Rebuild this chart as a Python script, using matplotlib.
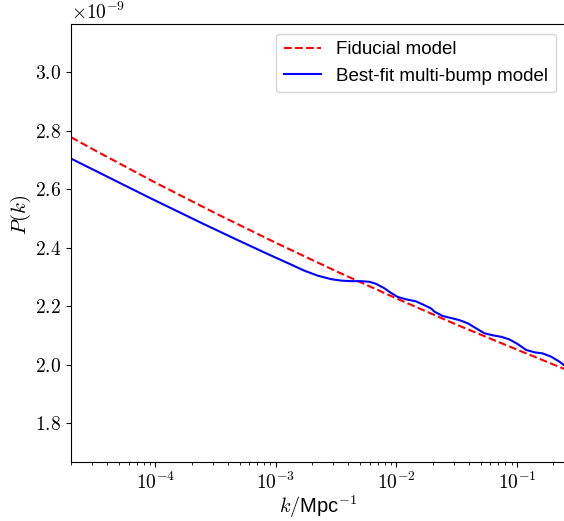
import matplotlib
matplotlib.use("Agg")
import matplotlib.pyplot as plt
from matplotlib.ticker import FuncFormatter, LogLocator
import numpy as np

plt.rcParams["font.family"] = ["Liberation Sans", "DejaVu Sans"]
plt.rcParams["mathtext.fontset"] = "cm"

# fiducial power-law spectrum (P in units of 1e-9)
k_fid = [2.0e-5, 3.16e-5, 1.0e-4, 3.16e-4, 1.0e-3, 3.16e-3, 1.0e-2, 3.16e-2, 1.0e-1, 2.5e-1]
P_fid = [2.778, 2.733, 2.623, 2.518, 2.417, 2.320, 2.227, 2.137, 2.052, 1.985]

# best-fit multi-bump spectrum (P in units of 1e-9)
k_bump = [2.0e-5, 5.18e-5, 9.18e-5, 2.385e-4, 4.51e-4, 8.53e-4, 1.332e-3, 1.718e-3,
          2.219e-3, 2.860e-3, 3.462e-3, 4.192e-3, 5.075e-3, 5.943e-3, 6.759e-3,
          7.920e-3, 9.00e-3, 1.023e-2, 1.199e-2, 1.451e-2, 1.701e-2, 1.933e-2,
          2.060e-2, 2.417e-2, 2.833e-2, 3.320e-2, 3.899e-2, 4.569e-2, 5.354e-2,
          6.285e-2, 7.366e-2, 8.630e-2, 1.013e-1, 1.188e-1, 1.392e-1, 1.634e-1,
          1.915e-1, 2.244e-1, 2.5e-1]
P_bump = [2.705, 2.620, 2.569, 2.486, 2.432, 2.379, 2.343, 2.322,
          2.305, 2.293, 2.288, 2.286, 2.286, 2.284, 2.277,
          2.262, 2.246, 2.232, 2.224, 2.217, 2.204, 2.193,
          2.182, 2.167, 2.160, 2.153, 2.142, 2.125, 2.108,
          2.101, 2.096, 2.087, 2.071, 2.051, 2.043, 2.039,
          2.028, 2.011, 1.996]

fig = plt.figure(figsize=(5.64, 5.21), dpi=100)
ax = fig.add_axes([0.1259, 0.1127, 0.876, 0.8407])

ax.plot(k_fid, P_fid, color="r", ls="--", lw=1.5, label="Fiducial model")
ax.plot(k_bump, P_bump, color="b", lw=1.5, label="Best-fit multi-bump model")

ax.set_xscale("log")
ax.set_xlim(2.0e-5, 0.25)
ax.set_ylim(1.667, 3.164)
ax.set_yticks([1.8, 2.0, 2.2, 2.4, 2.6, 2.8, 3.0])
ax.xaxis.set_major_locator(LogLocator(base=10, numticks=10))
ax.xaxis.set_major_formatter(FuncFormatter(lambda v, p: r"$10^{%d}$" % round(np.log10(v))))
ax.yaxis.set_major_formatter(FuncFormatter(lambda v, p: r"$%.1f$" % v))
ax.tick_params(labelsize=14)

ax.text(0.0, 1.003, r"$\times10^{-9}$", transform=ax.transAxes, fontsize=14,
        ha="left", va="bottom")

ax.set_xlabel(r"$k/$Mpc$^{-1}$", fontsize=14.5, labelpad=0)
ax.set_ylabel(r"$P(k)$", fontsize=15)
ax.yaxis.set_label_coords(-0.077, 0.565)

ax.legend(loc="upper right", fontsize=13.5)

fig.savefig("out.png", dpi=100)
